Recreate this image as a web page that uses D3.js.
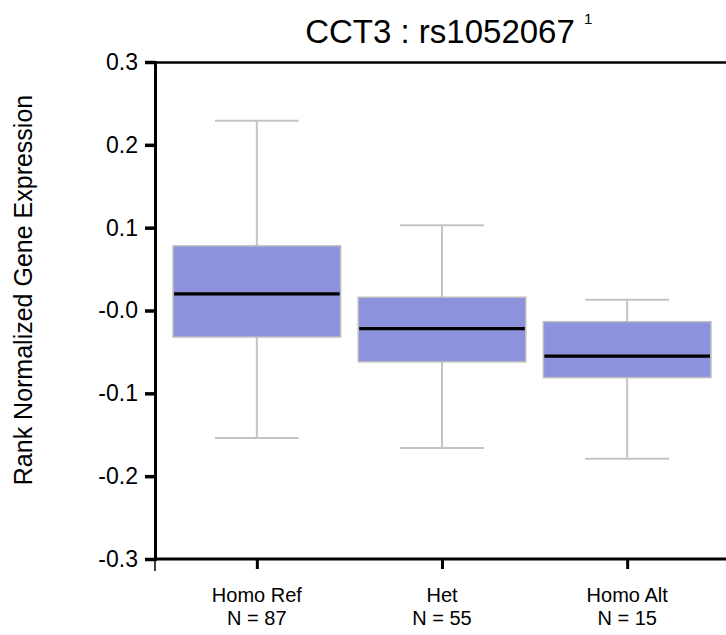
<!DOCTYPE html>
<html><head><meta charset="utf-8">
<script src="https://cdn.jsdelivr.net/npm/d3@7"></script>
<style>body{margin:0;background:#fff;overflow:hidden}svg{display:block}text{font-family:"Liberation Sans",Arial,sans-serif}</style>
</head><body>
<script>
const categories = ["Homo Ref", "Het", "Homo Alt"];
const counts = [87, 55, 15];
const whiskerHigh = [0.229, 0.103, 0.013];
const q3 = [0.078, 0.016, -0.0135];
const median = [0.020, -0.022, -0.055];
const q1 = [-0.032, -0.062, -0.081];
const whiskerLow = [-0.154, -0.166, -0.179];
const yTicks = [0.3, 0.2, 0.1, 0.0, -0.1, -0.2, -0.3];
const yTickLabels = ["0.3", "0.2", "0.1", "-0.0", "-0.1", "-0.2", "-0.3"];

const W = 726, H = 635;
const svg = d3.select("body").append("svg").attr("width", W).attr("height", H);

const x = d3.scalePoint().domain(categories).range([155, 729]).padding(0.55);
const y = d3.scaleLinear().domain([-0.3, 0.3]).range([559, 62]);
const boxW = x.step() * 0.905;

const data = categories.map((c, i) => ({c, n: counts[i], hi: whiskerHigh[i], q3: q3[i], med: median[i], q1: q1[i], lo: whiskerLow[i]}));

const g = svg.append("g");
data.forEach(d => {
  const cx = x(d.c);
  g.append("line").attr("x1", cx).attr("x2", cx).attr("y1", y(d.hi)).attr("y2", y(d.lo))
    .attr("stroke", "#c4c4c4").attr("stroke-width", 2);
  [d.hi, d.lo].forEach(v => g.append("line").attr("x1", cx - boxW / 4).attr("x2", cx + boxW / 4)
    .attr("y1", y(v)).attr("y2", y(v)).attr("stroke", "#c4c4c4").attr("stroke-width", 2));
  g.append("rect").attr("x", cx - boxW / 2).attr("width", boxW).attr("y", y(d.q3)).attr("height", y(d.q1) - y(d.q3))
    .attr("fill", "#8c93dc").attr("stroke", "#bdbdbd").attr("stroke-width", 1.5);
  g.append("line").attr("x1", cx - boxW / 2 + 1).attr("x2", cx + boxW / 2 - 1).attr("y1", y(d.med)).attr("y2", y(d.med))
    .attr("stroke", "#000").attr("stroke-width", 3.2);
});

svg.append("line").attr("x1", 155).attr("x2", 729).attr("y1", 62.5).attr("y2", 62.5).attr("stroke", "#000").attr("stroke-width", 2.5);

const yAxis = d3.axisLeft(y).tickValues(yTicks).tickFormat((d, i) => yTickLabels[i]).tickSize(10).tickPadding(7);
const ya = svg.append("g").attr("transform", "translate(155,0)").call(yAxis);
ya.select(".domain").attr("stroke", "#000").attr("stroke-width", 3);
ya.selectAll(".tick line").attr("stroke", "#000").attr("stroke-width", 3.5);
ya.selectAll(".tick text").attr("font-size", 23).attr("fill", "#000").attr("font-family", "Liberation Sans, Arial, sans-serif");

const xAxis = d3.axisBottom(x).tickSize(10).tickFormat("");
const xa = svg.append("g").attr("transform", "translate(0,559)").call(xAxis);
xa.select(".domain").attr("stroke", "#000").attr("stroke-width", 3).attr("d", "M155,0H729");
xa.selectAll(".tick line").attr("stroke", "#000").attr("stroke-width", 3);
svg.append("line").attr("x1", 155).attr("x2", 155).attr("y1", 559).attr("y2", 571).attr("stroke", "#000").attr("stroke-width", 1.5);

data.forEach(d => {
  const t = svg.append("text").attr("x", x(d.c)).attr("text-anchor", "middle").attr("font-size", 20).attr("fill", "#000");
  t.append("tspan").attr("x", x(d.c)).attr("y", 602).text(d.c);
  t.append("tspan").attr("x", x(d.c)).attr("y", 625).text("N = " + d.n);
});

svg.append("text").attr("x", 440).attr("y", 43).attr("text-anchor", "middle").attr("font-size", 33).attr("fill", "#000").text("CCT3 : rs1052067");
svg.append("text").attr("x", 584).attr("y", 24).attr("font-size", 15).attr("fill", "#000").text("1");

svg.append("text").attr("transform", "translate(32,290) rotate(-90)").attr("text-anchor", "middle").attr("font-size", 25).attr("fill", "#000")
  .text("Rank Normalized Gene Expression");
</script>
</body></html>
